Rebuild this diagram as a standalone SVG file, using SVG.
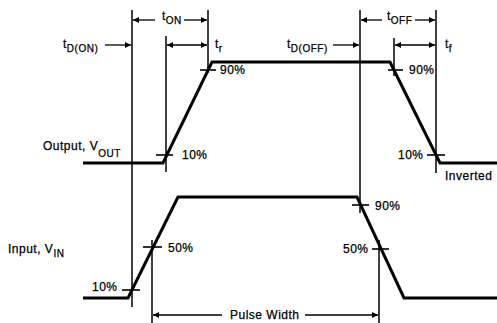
<svg xmlns="http://www.w3.org/2000/svg" width="497" height="323" viewBox="0 0 497 323">
<style>
.wave{fill:none;stroke:#000;stroke-width:3;stroke-linejoin:miter}
.ref{stroke:#000;stroke-width:1.5;fill:none}
.tick{stroke:#000;stroke-width:1.6}
.dim{stroke:#000;stroke-width:1.3;fill:none}
text{font-family:"Liberation Sans",Arial,sans-serif;font-size:12px;fill:#000;stroke:#000;stroke-width:0.25;letter-spacing:0.5px}
.sub{font-size:10px}
</style>
<defs>
<marker id="ah" viewBox="0 0 10 10" refX="10" refY="5" markerWidth="8" markerHeight="6" markerUnits="userSpaceOnUse" orient="auto-start-reverse">
<path d="M0,0 L10,5 L0,10 Z" fill="#000"/>
</marker>
</defs>
<rect width="497" height="323" fill="#fff"/>
<g id="output-waveform">
<polyline class="wave" points="83,163 163,163 212,62 390,62 440,163 497,163"/>
<line class="tick" x1="156" y1="155" x2="173" y2="155"/>
<line class="tick" x1="200" y1="70" x2="216" y2="70"/>
<line class="tick" x1="388" y1="70" x2="403" y2="70"/>
<line class="tick" x1="427" y1="155" x2="445" y2="155"/>
<text x="43" y="150">Output, V<tspan class="sub" dy="7">OUT</tspan></text>
<text x="182" y="159">10%</text>
<text x="220" y="74">90%</text>
<text x="409" y="74">90%</text>
<text x="398" y="159">10%</text>
<text x="445" y="180">Inverted</text>
</g>
<g id="input-waveform">
<polyline class="wave" points="83,298 128,298 178,197 357,197 404,298 497,298"/>
<line class="tick" x1="122" y1="290" x2="140" y2="290"/>
<line class="tick" x1="143" y1="247" x2="162" y2="247"/>
<line class="tick" x1="352" y1="205" x2="369" y2="205"/>
<line class="tick" x1="372" y1="249" x2="389" y2="249"/>
<text x="8" y="253">Input, V<tspan class="sub" dy="4">IN</tspan></text>
<text x="92" y="291">10%</text>
<text x="168" y="252">50%</text>
<text x="375" y="210">90%</text>
<text x="343" y="253">50%</text>
</g>
<g id="reference-lines">
<line class="ref" x1="132" y1="10" x2="132" y2="307"/>
<line class="ref" x1="166" y1="36" x2="166" y2="172"/>
<line class="ref" x1="208" y1="10" x2="208" y2="73"/>
<line class="ref" x1="360" y1="10" x2="360" y2="213"/>
<line class="ref" x1="394" y1="38" x2="394" y2="76"/>
<line class="ref" x1="436" y1="10" x2="436" y2="173"/>
<line class="ref" x1="152" y1="240" x2="152" y2="323"/>
<line class="ref" x1="379" y1="240" x2="379" y2="323"/>
</g>
<g id="connectors">
<line class="dim" x1="155" y1="20" x2="133" y2="20" marker-end="url(#ah)"/>
<line class="dim" x1="184" y1="20" x2="207" y2="20" marker-end="url(#ah)"/>
<line class="dim" x1="105" y1="45" x2="131" y2="45" marker-end="url(#ah)"/>
<line class="dim" x1="167" y1="45" x2="207" y2="45" marker-start="url(#ah)" marker-end="url(#ah)"/>
<line class="dim" x1="333" y1="45" x2="359" y2="45" marker-end="url(#ah)"/>
<line class="dim" x1="382" y1="20" x2="361" y2="20" marker-end="url(#ah)"/>
<line class="dim" x1="415" y1="20" x2="435" y2="20" marker-end="url(#ah)"/>
<line class="dim" x1="395" y1="45" x2="435" y2="45" marker-start="url(#ah)" marker-end="url(#ah)"/>
<line class="dim" x1="222" y1="315" x2="153" y2="315" marker-end="url(#ah)"/>
<line class="dim" x1="305" y1="315" x2="378" y2="315" marker-end="url(#ah)"/>
</g>
<g id="timing-labels">
<text x="63" y="48">t<tspan class="sub" dy="4">D(ON)</tspan></text>
<text x="162" y="20">t<tspan class="sub" dy="4">ON</tspan></text>
<text x="215" y="48">t<tspan class="sub" dy="4">r</tspan></text>
<text x="287" y="48">t<tspan class="sub" dy="4">D(OFF)</tspan></text>
<text x="387" y="20">t<tspan class="sub" dy="4">OFF</tspan></text>
<text x="445" y="48">t<tspan class="sub" dy="4">f</tspan></text>
<text x="230" y="319">Pulse Width</text>
</g>
</svg>
